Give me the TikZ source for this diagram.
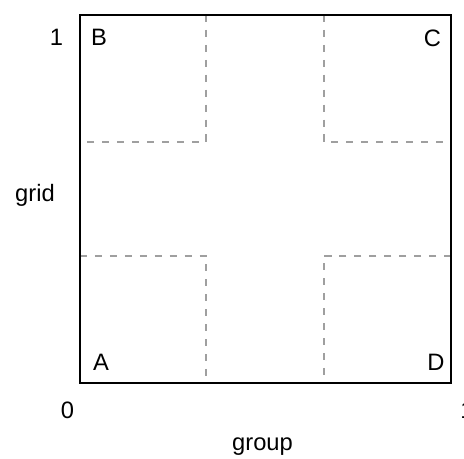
\documentclass[tikz,border=0pt]{standalone}
\usepackage{fontspec}
\setmainfont{Liberation Sans}
\begin{document}
\begin{tikzpicture}[lbl/.style={font=\fontsize{13.5}{16}\selectfont, inner sep=0pt, anchor=base},
  cut/.style={gray!75, dash pattern=on 4pt off 4.5pt, line width=0.6pt}]
\useasboundingbox (0,0) rectangle (9.28,9.16);

\draw[cut] (4.12,8.86) -- (4.12,6.32) -- (1.60,6.32);
\draw[cut] (6.48,8.86) -- (6.48,6.32) -- (9.02,6.32);
\draw[cut] (1.60,4.04) -- (4.12,4.04) -- (4.12,1.50);
\draw[cut] (9.02,4.04) -- (6.48,4.04) -- (6.48,1.50);

\draw[line width=1.1pt] (1.60,1.50) rectangle (9.02,8.86);

\node[lbl] (regB) at (1.98,8.24) {B};
\node[lbl] (regC) at (8.65,8.22) {C};
\node[lbl] (regA) at (2.02,1.74) {A};
\node[lbl] (regD) at (8.72,1.75) {D};

\node[lbl] (ytop) at (1.13,8.24) {1};
\node[lbl] (orig) at (1.35,0.80) {0};
\node[lbl] (xtop) at (9.34,0.80) {1};
\node[lbl] (ylab) at (0.70,5.13) {grid};
\node[lbl] (xlab) at (5.25,0.16) {group};
\end{tikzpicture}
\end{document}
